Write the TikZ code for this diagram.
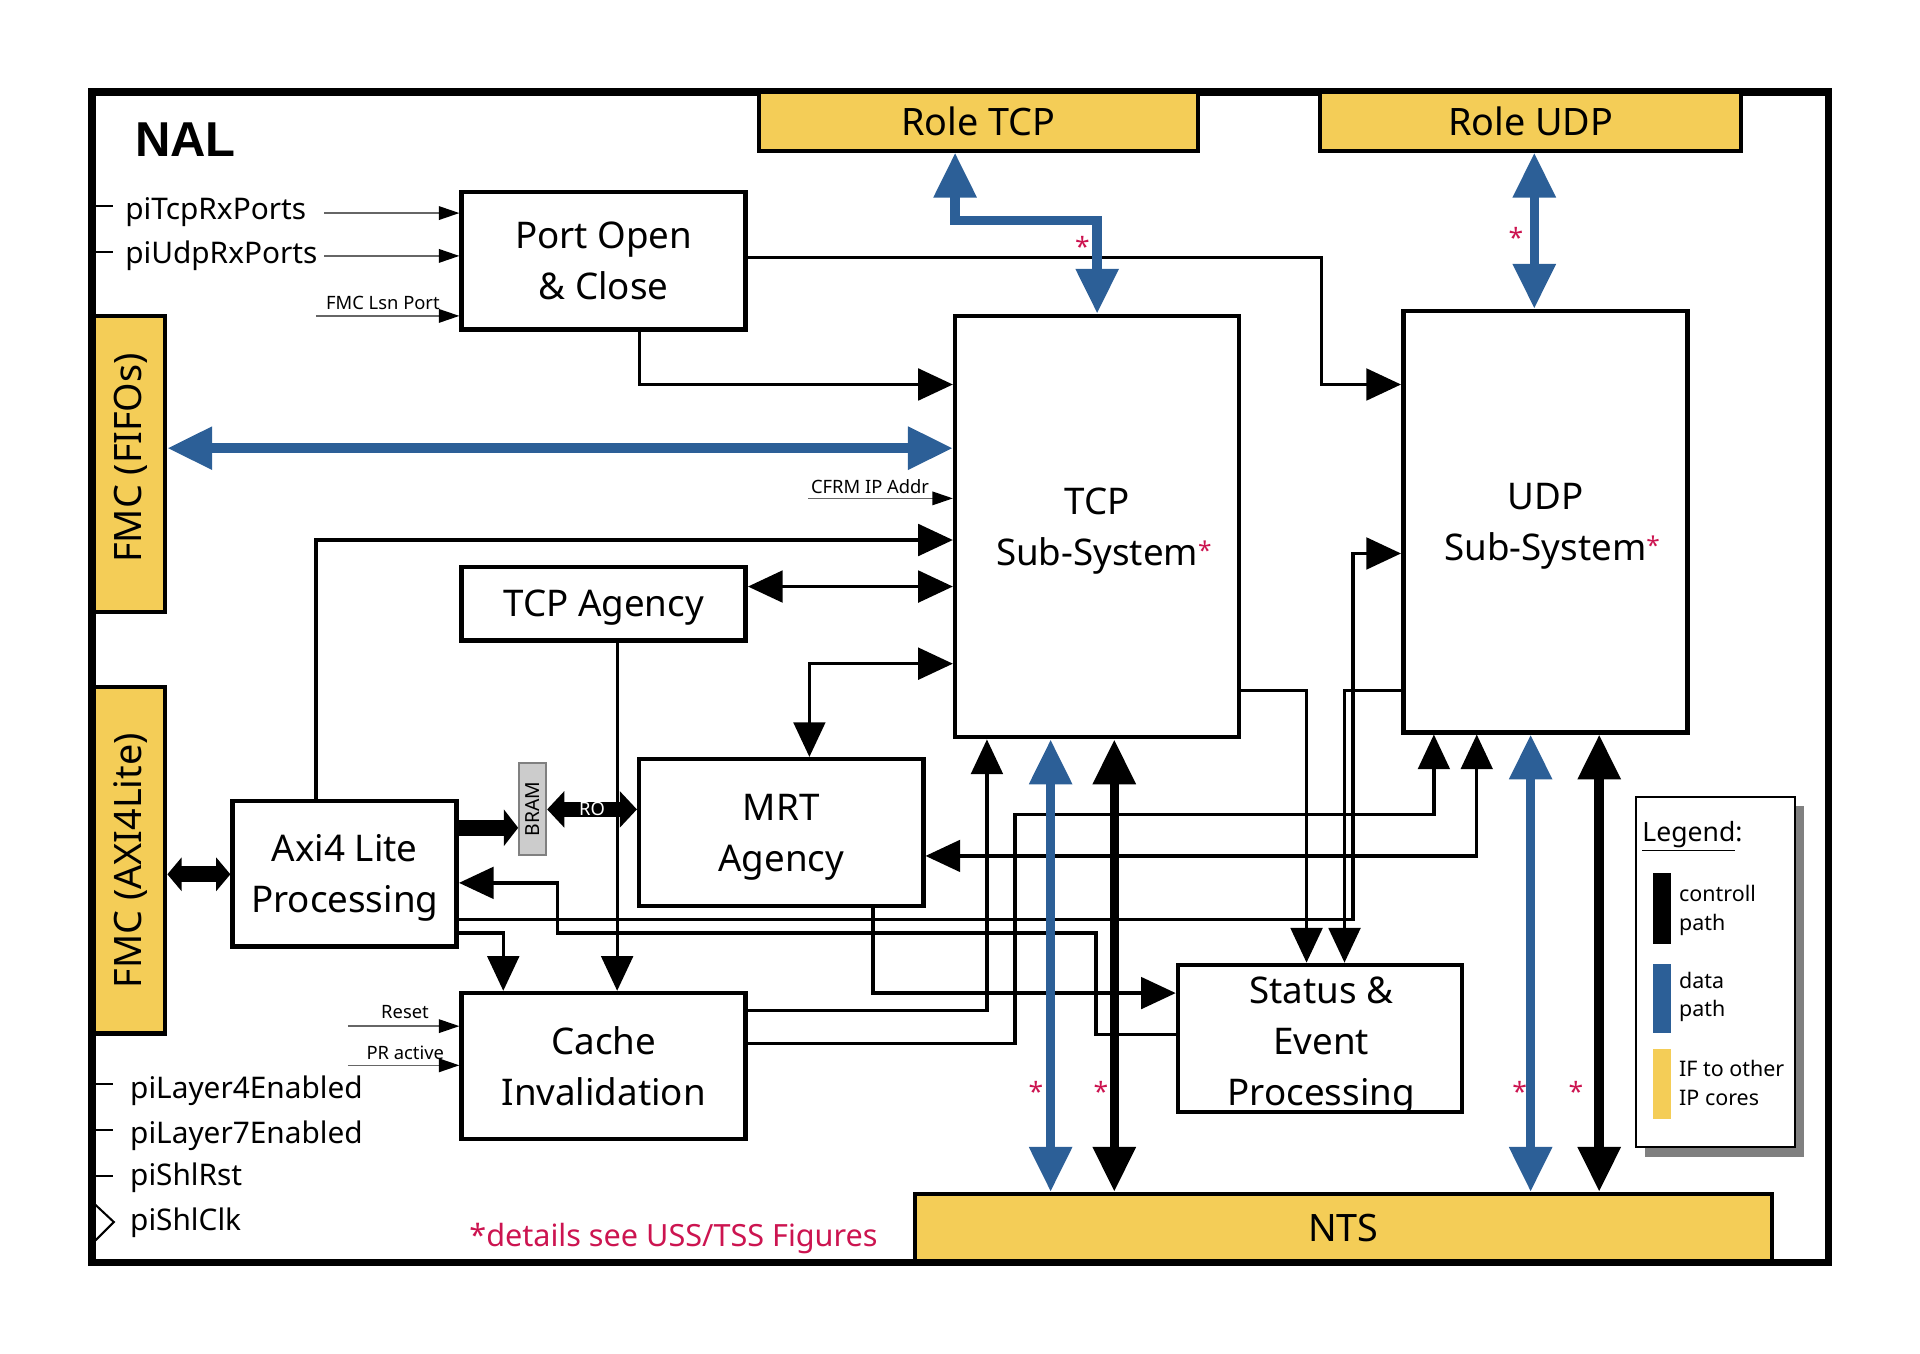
\documentclass[tikz,border=0pt]{standalone}
\usepackage{fontspec}
\setmainfont{Noto Sans}
\setsansfont{Noto Sans}
\newfontfamily\nalbold{Liberation Sans}
\usetikzlibrary{arrows.meta,fit}
\definecolor{nalblue}{RGB}{44,95,151}
\definecolor{nalyellow}{RGB}{244,205,87}
\definecolor{nalred}{RGB}{204,20,80}
\definecolor{bramgray}{RGB}{204,204,204}
\newcommand{\redsup}{\rlap{\raisebox{3pt}{\textcolor{nalred}{\fontsize{12}{12}\selectfont *}}}}
\begin{document}
\begin{tikzpicture}[x=0.6pt,y=-0.6pt,
  box/.style={draw, line width=2.2pt, fill=white, inner sep=0pt},
  ybox/.style={draw, line width=2pt, fill=nalyellow, inner sep=0pt},
  boxtxt/.style={align=center, inner sep=0pt, text depth=0pt, font=\fontsize{18}{25}\selectfont},
  conn/.style={line width=1.6pt},
  arr/.style={-{Triangle[length=17pt,width=15.5pt]}},
  arrs/.style={{Triangle[length=17pt,width=15.5pt]}-{Triangle[length=17pt,width=15.5pt]}},
  dpath/.style={draw=nalblue, line width=4.7pt, {Triangle[length=22pt,width=20pt]}-{Triangle[length=22pt,width=20pt]}},
  cpath/.style={draw=black, line width=4.7pt, {Triangle[length=22pt,width=20pt]}-{Triangle[length=22pt,width=20pt]}},
  portin/.style={draw=black!60, line width=0.8pt, -{Triangle[length=10pt,width=6.6pt,black]}},
  pilabel/.style={anchor=base west, inner sep=0pt, font=\fontsize{14.6}{18}\selectfont},
  smalltxt/.style={anchor=base west, inner sep=0pt, font=\fontsize{9}{11}\selectfont},
  legtxt/.style={anchor=base west, inner sep=0pt, font=\fontsize{10.5}{12}\selectfont},
  redstar/.style={text=nalred, inner sep=0pt, font=\fontsize{13}{13}\selectfont},
  tick/.style={line width=1pt},
]
\useasboundingbox (0,0) rectangle (1568,1105);

% outer frame
\node[draw, line width=3.6pt, inner sep=0pt, fit={(75,75) (1493,1031)}] (nal) {};
\node[anchor=base west, inner sep=0pt, font=\nalbold\bfseries\fontsize{24}{24}\selectfont] (naltitle) at (110,128) {NAL};

% interface boxes
\node[ybox, fit={(620,75) (978,123)}] (roletcp) {};
\node[boxtxt, font=\fontsize{18.5}{25}\selectfont] (roletcptxt) at (roletcp.center) {Role TCP};
\node[ybox, fit={(1078,75) (1422,123)}] (roleudp) {};
\node[boxtxt, font=\fontsize{18.5}{25}\selectfont] (roleudptxt) at (roleudp.center) {Role UDP};
\node[ybox, fit={(747,975) (1447,1030)}] (nts) {};
\node[boxtxt, font=\fontsize{18.5}{25}\selectfont] (ntstxt) at (nts.center) {NTS};
\node[ybox, fit={(77,258) (135,500)}] (fifo) {};
\node[rotate=90, inner sep=0pt, font=\fontsize{18.5}{20}\selectfont] (fifotxt) at (107,374) {FMC (FIFOs)};
\node[ybox, fit={(77,561) (135,844)}] (axil) {};
\node[rotate=90, inner sep=0pt, font=\fontsize{18.5}{20}\selectfont] (axiltxt) at (107,703) {FMC (AXI4Lite)};

% processing boxes
\node[box, fit={(377,157) (609,269)}] (port) {};
\node[boxtxt] (porttxt) at (port.center) {Port Open\\\& Close};
\node[box, fit={(780,258) (1012,602)}] (tcp) {};
\node[boxtxt] (tcptxt) at (896,430) {TCP\\Sub-System\redsup};
\node[box, fit={(1146,254) (1378,598)}] (udp) {};
\node[boxtxt] (udptxt) at (1262,426) {UDP\\Sub-System\redsup};
\node[box, fit={(377,463) (609,523)}] (agency) {};
\node[boxtxt] (agencytxt) at (agency.center) {TCP Agency};
\node[box, fit={(522,620) (754,740)}] (mrt) {};
\node[boxtxt] (mrttxt) at (mrt.center) {MRT\\Agency};
\node[box, fit={(190,654) (373,773)}] (axi) {};
\node[boxtxt] (axitxt) at (axi.center) {Axi4 Lite\\Processing};
\node[box, fit={(377,811) (609,930)}] (cache) {};
\node[boxtxt] (cachetxt) at (cache.center) {Cache\\Invalidation};
\node[box, fit={(962,788) (1194,908)}] (status) {};
\node[boxtxt] (statustxt) at (1079,850) {Status \&\\Event\\Processing};

% BRAM
\node[fit={(424,623) (446,698)}, inner sep=0pt, draw=black!50, fill=bramgray, line width=1pt] (bram) {};
\node[rotate=90, inner sep=0pt, font=\fontsize{9.5}{10}\selectfont] (bramtxt) at (bram.center) {BRAM};

% legend
\fill[black!50] (1343,658) rectangle (1473,945);
\node[fit={(1336,651) (1466,937)}, inner sep=0pt, draw, line width=1pt, fill=white] (legend) {};
\node[anchor=base west, inner sep=0pt, font=\fontsize{13}{14}\selectfont] (legtitle) at (1341,687) {\underline{Legend}:};
\fill (1350,713) rectangle (1365,771);
\fill[nalblue] (1350,787) rectangle (1365,844);
\fill[nalyellow] (1350,857) rectangle (1365,914);
\node[legtxt] (lg1) at (1371,736) {controll};
\node[legtxt] (lg2) at (1371,759.5) {path};
\node[legtxt] (lg3) at (1371,807) {data};
\node[legtxt] (lg4) at (1371,830.5) {path};
\node[legtxt] (lg5) at (1371,879.3) {IF to other};
\node[legtxt] (lg6) at (1371,902.4) {IP cores};

% thin connectors
\draw[conn, arr] (port.south -| 522,0) -- (522,314) -- (tcp.west |- 0,314);
\draw[conn, arr] (port.east |- 0,210) -- (1079,210) -- (1079,314) -- (udp.west |- 0,314);
\draw[conn, arr] (axi.north -| 258,0) -- (258,441) -- (tcp.west |- 0,441);
\draw[conn, arrs] (agency.east |- 0,479) -- (tcp.west |- 0,479);
\draw[conn, arr] (agency.south -| 504,0) -- (cache.north -| 504,0);
\draw[conn, arrs] (tcp.west |- 0,542) -- (661,542) -- (mrt.north -| 661,0);
\draw[conn, arr] (axi.east |- 0,762) -- (411,762) -- (cache.north -| 411,0);
\draw[conn, arrs] (udp.south -| 1206,0) -- (1206,699) -- (mrt.east |- 0,699);
\draw[conn, arr] (cache.east |- 0,852) -- (829,852) -- (829,665) -- (1171,665) -- (udp.south -| 1171,0);
\draw[conn, arr] (cache.east |- 0,825) -- (806,825) -- (tcp.south -| 806,0);
\draw[conn, arr] (tcp.east |- 0,564) -- (1067,564) -- (status.north -| 1067,0);
\draw[conn, arr] (udp.west |- 0,564) -- (1098,564) -- (status.north -| 1098,0);
\draw[conn, arr] (axi.east |- 0,751) -- (1105,751) -- (1105,452) -- (udp.west |- 0,452);
\draw[conn, arr] (mrt.south -| 713,0) -- (713,811) -- (status.west |- 0,811);
\draw[conn, arr] (status.west |- 0,845) -- (895,845) -- (895,762) -- (455,762) -- (455,721) -- (axi.east |- 0,721);

% thick data / control paths
\draw[dpath] (roletcp.south -| 780,0) -- (780,180) -- (896,180) -- (tcp.north -| 896,0);
\draw[dpath] (roleudp.south -| 1253,0) -- (udp.north -| 1253,0);
\draw[dpath] (fifo.east |- 0,366) -- (tcp.west |- 0,366);
\draw[dpath] (tcp.south -| 858,0) -- (nts.north -| 858,0);
\draw[cpath] (tcp.south -| 910,0) -- (nts.north -| 910,0);
\draw[dpath] (udp.south -| 1250,0) -- (nts.north -| 1250,0);
\draw[cpath] (udp.south -| 1306,0) -- (nts.north -| 1306,0);

% block arrows
\draw[line width=7.8pt, -{Triangle[length=7pt,width=17.6pt]}] (axi.east |- 0,676) -- (bram.west |- 0,676);
\draw[line width=7.2pt, {Triangle[length=8.4pt,width=17.4pt]}-{Triangle[length=8.4pt,width=17.4pt]}] (bram.east |- 0,661) -- node[text=white, inner sep=0pt, font=\fontsize{9}{9}\selectfont] (rotxt) {RO} (mrt.west |- 0,661);
\draw[line width=8pt, {Triangle[length=7pt,width=16.2pt]}-{Triangle[length=7pt,width=16.2pt]}] (axil.east |- 0,714) -- (axi.west |- 0,714);

% port inputs
\coordinate (intcp) at (265,174);
\coordinate (inudp) at (265,209);
\coordinate (inlsn) at (258,258);
\coordinate (incfrm) at (660,407);
\coordinate (inrst) at (284,838);
\coordinate (inpr) at (284,870);
\draw[portin] (intcp) -- (port.west |- intcp);
\draw[portin] (inudp) -- (port.west |- inudp);
\draw[portin] (inlsn) -- (port.west |- inlsn);
\draw[portin] (incfrm) -- (tcp.west |- incfrm);
\draw[portin] (inrst) -- (cache.west |- inrst);
\draw[portin] (inpr) -- (cache.west |- inpr);
\node[smalltxt] (lsn) at (266,253) {FMC Lsn Port};
\node[smalltxt] (cfrm) at (662,403) {CFRM IP Addr};
\node[smalltxt] (rst) at (311,832) {Reset};
\node[smalltxt] (pra) at (299,865) {PR active};

% left port labels
\node[pilabel] (p1) at (102,179) {piTcpRxPorts};
\node[pilabel] (p2) at (102,215) {piUdpRxPorts};
\node[pilabel] (p3) at (106,897) {piLayer4Enabled};
\node[pilabel] (p4) at (106,934) {piLayer7Enabled};
\node[pilabel] (p5) at (106,968) {piShlRst};
\node[pilabel] (p6) at (106,1005) {piShlClk};
\draw[tick] (78,168) -- (92,168);
\draw[tick] (78,206) -- (92,206);
\draw[tick] (78,885) -- (92,885);
\draw[tick] (78,923) -- (92,923);
\draw[tick] (78,960) -- (92,960);
\draw[tick] (78,984) -- (93,998) -- (78,1013);

% stars and note
\node[redstar] (s1) at (884,201) {*};
\node[redstar] (s2) at (1238,194) {*};
\node[redstar] (s3) at (846,891) {*};
\node[redstar] (s4) at (899,891) {*};
\node[redstar] (s5) at (1241,891) {*};
\node[redstar] (s6) at (1287,891) {*};
\node[anchor=base west, inner sep=0pt, text=nalred, font=\fontsize{15}{18}\selectfont] (note) at (383,1018) {*details see USS/TSS Figures};
\end{tikzpicture}
\end{document}
